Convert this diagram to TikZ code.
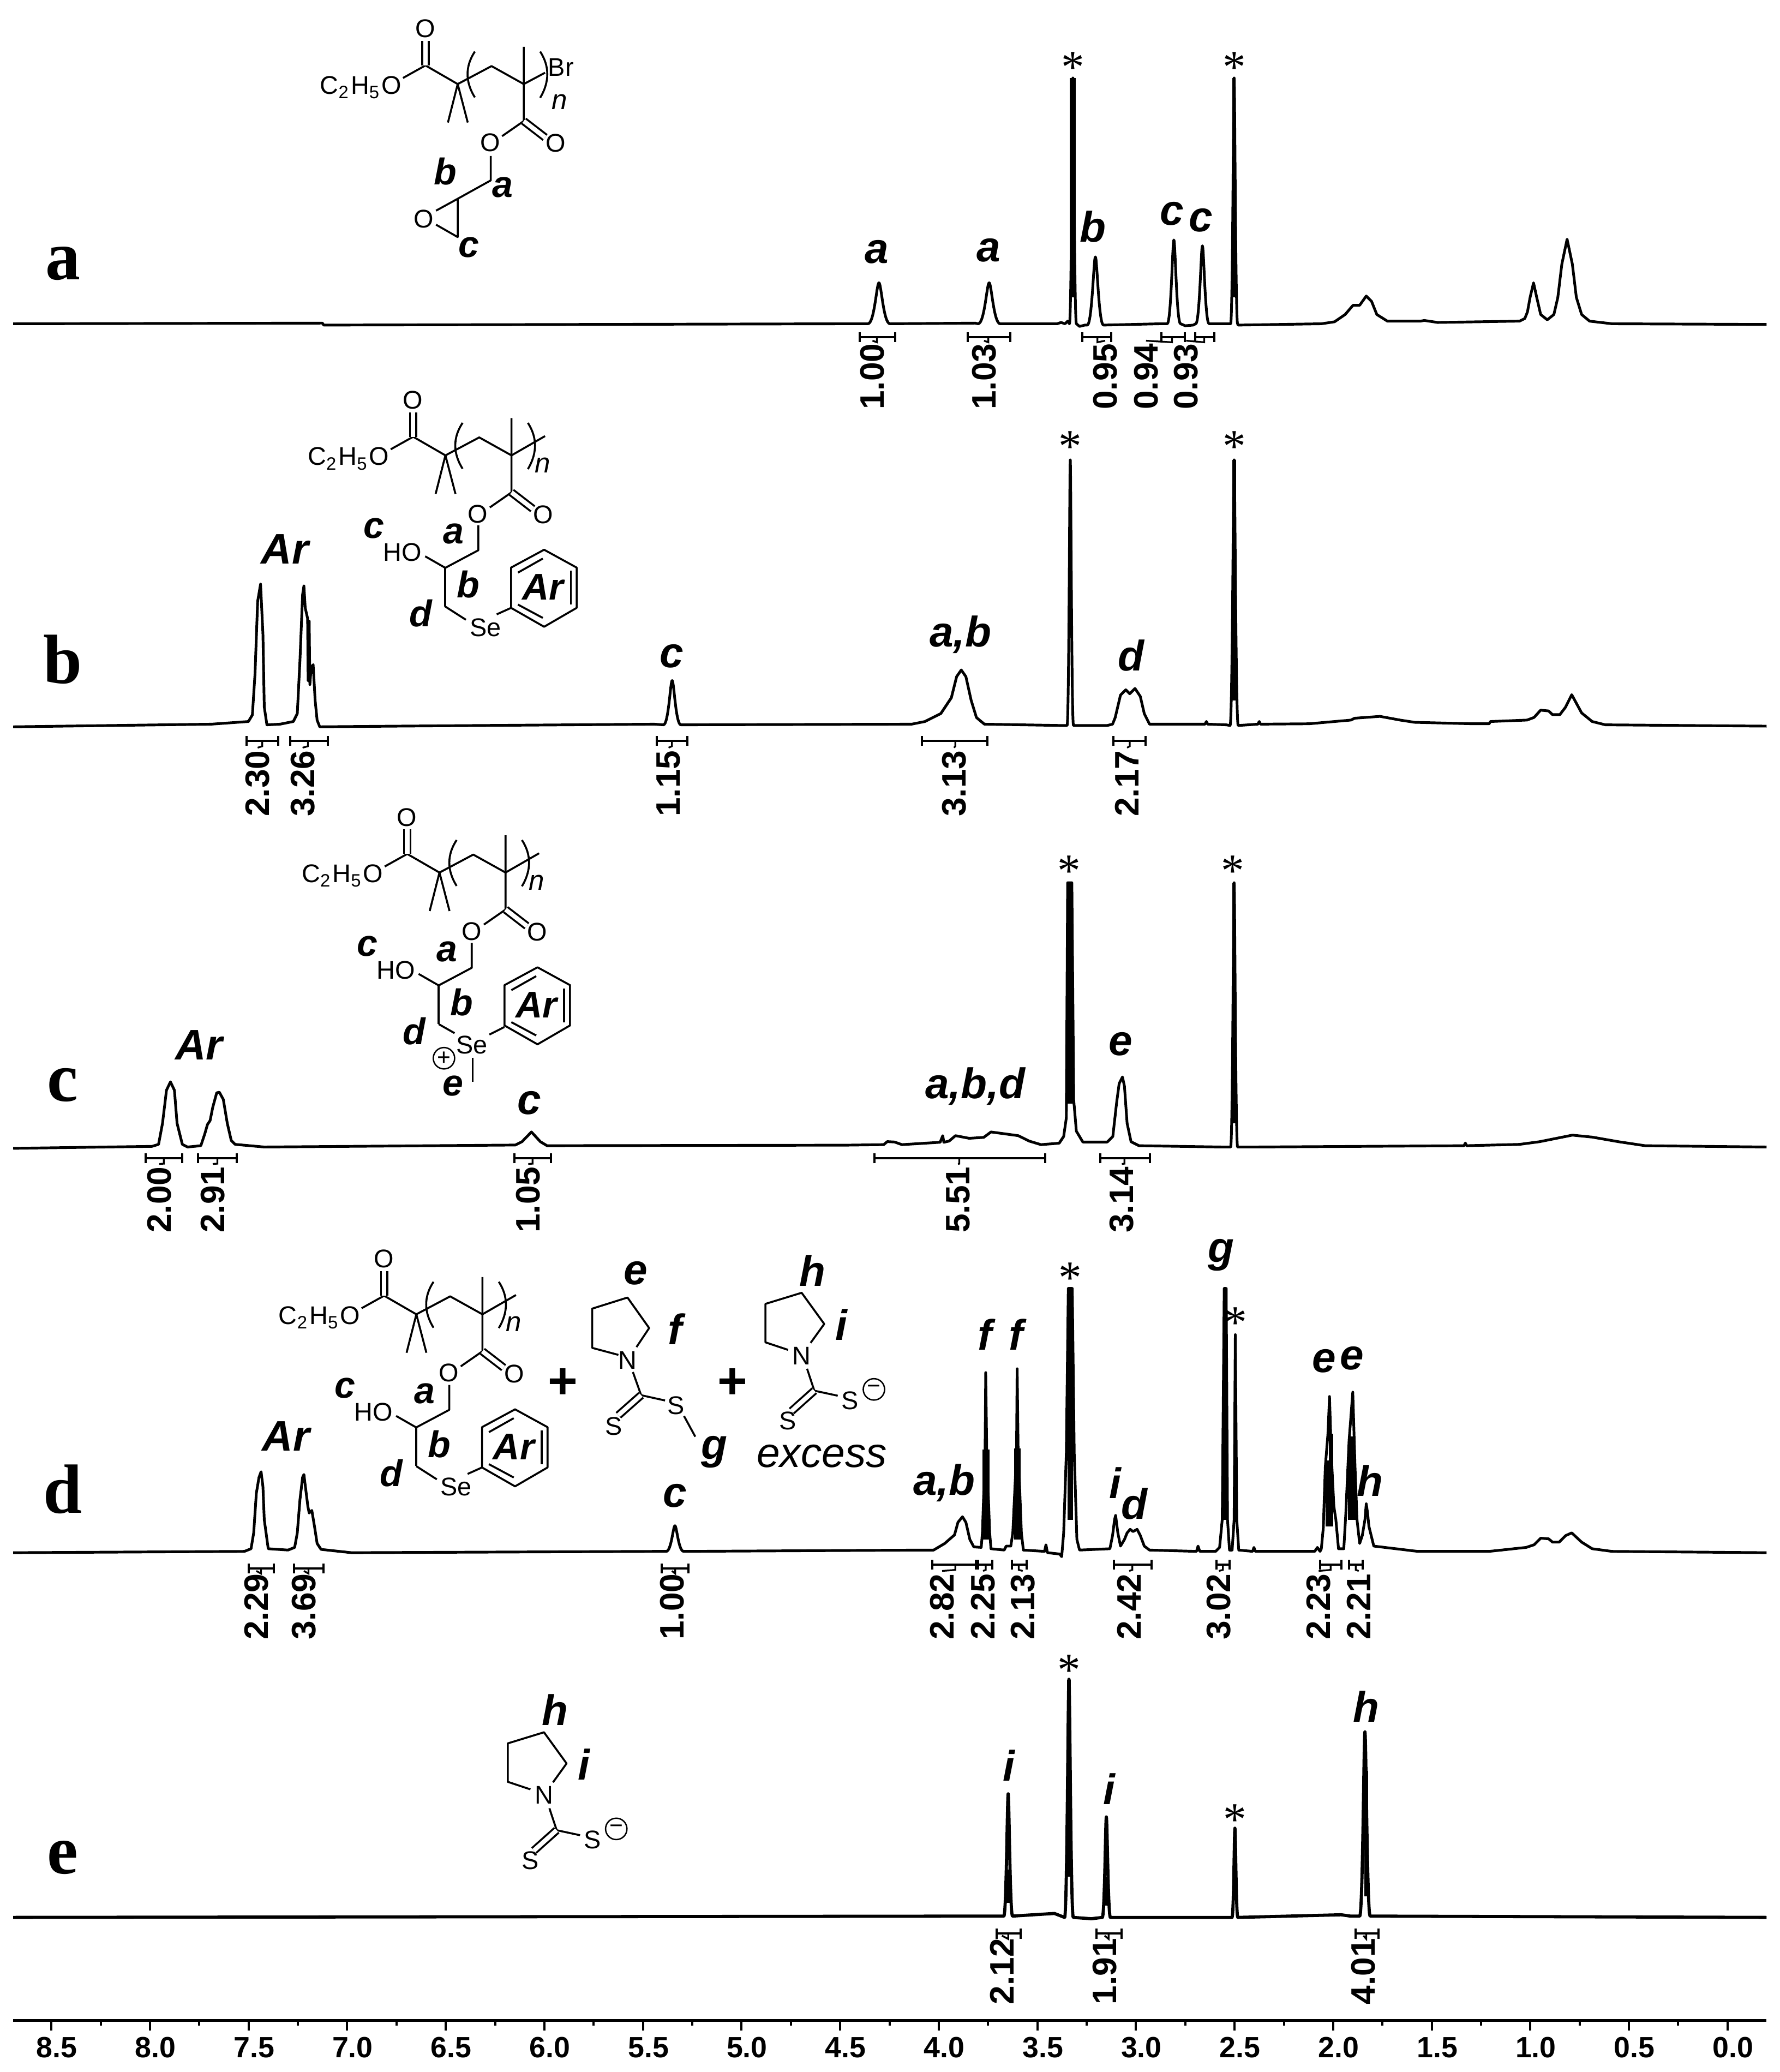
\documentclass[tikz,border=0pt]{standalone}
\usepackage{fontspec}
\setmainfont{Liberation Sans}
\newfontfamily\serifpanel{Liberation Serif}
\usetikzlibrary{arrows.meta}

\tikzset{
  spec/.style={line width=0.58pt, line join=round},
  base/.style={line width=0.62pt},
  bond/.style={line width=0.42pt, line join=round},
  dbl/.style={line width=0.42pt, double, double distance=0.95pt},
  axistick/.style={line width=0.47pt},
  intbar/.style={line width=0.47pt, {Bar[width=2.15pt]}-{Bar[width=2.15pt]}},
  intstem/.style={line width=0.38pt},
  intlab/.style={font=\bfseries\fontsize{7.3}{8}\selectfont, rotate=90, anchor=west, inner sep=0.4pt},
  axlab/.style={font=\bfseries\fontsize{6.3}{7}\selectfont, inner sep=0pt},
  pklab/.style={font=\bfseries\itshape\fontsize{9.2}{10}\selectfont, inner sep=0pt},
  stlab/.style={font=\bfseries\itshape\fontsize{8}{9}\selectfont, inner sep=0pt},
  chem/.style={font=\fontsize{5.5}{6}\selectfont, inner sep=0pt},
  chemit/.style={font=\itshape\fontsize{6}{7}\selectfont, inner sep=0pt},
  starlab/.style={font=\serifpanel\fontsize{10}{10}\selectfont, inner sep=0pt},
  panel/.style={font=\serifpanel\bfseries\fontsize{15}{16}\selectfont, anchor=base, inner sep=0pt},
  charge/.style={draw, circle, line width=0.3pt, inner sep=0pt, minimum size=4.6pt, font=\fontsize{5}{5}\selectfont},
}

% peak: x, top, half width, foot level
\newcommand{\pk}[4]{-- ({#1-#3*2.2},#4) .. controls ({#1-#3*0.9},#4) and ({#1-#3*0.45},#2) .. (#1,#2) .. controls ({#1+#3*0.45},#2) and ({#1+#3*0.9},#4) .. ({#1+#3*2.2},#4)}
% solid part of a crowded peak: x, top, bottom, width
\newcommand{\stick}[4]{\draw[line width=#4*0.2845pt] (#1,#2) -- (#1,#3);}
% integral: name, left, right, stem, label x, bar y, label bottom, value
\newcommand{\integ}[8]{%
  \coordinate (#1l) at (#2,#6);
  \coordinate (#1r) at (#3,#6);
  \coordinate (#1s) at (#4,#6);
  \node[intlab] (#1t) at (#5,#7) {#8};
  \draw[intbar] (#1l) -- (#1r);
  \draw[intstem] (#1s) -- ++(0,4) -- (#1t.east);
}
% ester and polymer unit, tail end and n
\newcommand{\polyhead}[2]{%
  \draw[bond] (305,59) -- (322,49.5) -- (346.4,63.6) -- (372,50) -- (396.4,63.6) -- (#1);
  \draw[dbl] (322,49.5) -- (322,31);
  \draw[bond] (339,92.7) -- (346.4,63.6) -- (354,92.7);
  \draw[bond] (396.4,35.4) -- (396.4,91.6) -- (380,103);
  \draw[dbl] (396.4,91.6) -- (412.5,104);
  \draw[bond] (359.4,39) .. controls (352,50) and (352,62) .. (359.4,73.7);
  \draw[bond] (408.8,39) .. controls (416,50) and (416,62) .. (408.8,74);
  \node[chem] (o1) at (321.8,21.7) {O};
  \node[chem, anchor=base east] (et) at (304.5,71) {C\textsubscript{2}H\textsubscript{5}O};
  \node[chem] (o2) at (371,108) {O};
  \node[chem] (o3) at (420.4,108.5) {O};
  \node[chemit] (rep) at (#2) {n};
}
% side chain with ring
\newcommand{\chainunit}{%
  \draw[bond] (362,397.5) -- (362,416.4) -- (337,429.7) -- (321.8,421);
  \draw[bond] (337,429.7) -- (337,459);
  \draw[bond] (411.8,416) -- (436.4,429.5) -- (436.4,460) -- (411.8,474.3) -- (386.8,460) -- (386.8,429.5) -- cycle;
  \draw[bond] (392,433.3) -- (410.8,422.7);
  \draw[bond] (432,432) -- (432,457.5);
  \draw[bond] (392,457.5) -- (410.8,467.6);
  \node[chem] (ho) at (304.6,418) {HO};
  \node[stlab] (lc) at (283,400) {c};
  \node[stlab] (la) at (343.3,404) {a};
  \node[stlab] (lb) at (354.3,442.3) {b};
  \node[stlab] (ld) at (318.3,464.2) {d};
  \node[stlab] (lar) at (410.8,444.4) {Ar};
}
% plain selenide
\newcommand{\seplain}{%
  \draw[bond] (337,459) -- (352.6,469);
  \draw[bond] (375.9,464.9) -- (386.8,460);
  \node[chem] (se) at (367.3,474.8) {Se};
}
% dithiocarbamate anion
\newcommand{\anion}{%
  \draw[bond] (613.5,1016.2) -- (623.8,1001.9) -- (606.7,978.3) -- (579.3,986.7) -- (579.3,1015.8) -- (596.4,1021.5);
  \draw[bond] (610.8,1035.8) -- (616.3,1052.4) -- (634,1056.2);
  \draw[dbl] (616.3,1052.4) -- (599.1,1067.8);
  \node[chem] (n) at (606.7,1026) {N};
  \node[chem] (s1) at (596.4,1075.2) {S};
  \node[chem] (s2) at (643.3,1059.8) {S};
  \node[charge] (neg) at (661.4,1051.4) {−};
  \node[pklab] (lh) at (615,961.4) {h};
  \node[pklab] (li) at (636.8,1002.5) {i};
}

\begin{document}
\begin{tikzpicture}[x=0.01cm, y=-0.01cm]
    \useasboundingbox (0,0) rectangle (1347,1568);

    % axis
    \draw[base] (10,1529) -- (1336.7,1529);
    \foreach \i/\v in {0/8.5,1/8.0,2/7.5,3/7.0,4/6.5,5/6.0,6/5.5,7/5.0,8/4.5,9/4.0,10/3.5,11/3.0,12/2.5,13/2.0,14/1.5,15/1.0,16/0.5,17/0.0} {
        \draw[axistick] ({38.9+74.62*\i},1529) -- ++(0,7.4);
        \node[axlab] (ax\i) at ({43+74.62*\i},1549.5) {\v};
    }
    \foreach \i in {0,...,16} {
        \draw[axistick] ({76.2+74.62*\i},1529) -- ++(0,4);
    }

    % panel letters
    \node[panel] (pa) at (47.5,211.6) {a};
    \node[panel] (pb) at (47.5,516.9) {b};
    \node[panel] (pc) at (47.5,833.4) {c};
    \node[panel] (pd) at (47.5,1145) {d};
    \node[panel] (pe) at (47.5,1418) {e};

    % spectrum a
    \draw[spec] (10,245) -- (244,244.5) -- (245,246) -- (640,245) \pk{665.2}{214}{3.8}{245} -- (738,244.5) \pk{748.6}{214}{3.8}{245} -- (800,245) -- (803,244) -- (806,245) -- (808,243) \pk{812}{59}{1.2}{245} -- (817,247) -- (821,246) \pk{829}{194.4}{2.8}{246} -- (878,245) \pk{888.4}{181.6}{2.3}{245} -- (897,246.5) -- (903,246) \pk{910}{186}{2.3}{245} -- (928,245) \pk{934}{59}{1.2}{245} -- (937,246) -- (1000,245) -- (1010,243.5) -- (1018,238) -- (1024,231) -- (1029,231) -- (1034,224) -- (1038,228) -- (1042,238) -- (1050,243) -- (1075,243) -- (1078,242.5) -- (1088,244) -- (1150,243) -- (1154,241) -- (1156,236) -- (1158,225) -- (1160.6,214) -- (1163,225) -- (1166,238) -- (1171,242) -- (1176,238) -- (1179,225) -- (1182,200) -- (1186,181) -- (1190,200) -- (1193,225) -- (1197,238) -- (1203,243) -- (1220,245) -- (1337,245.5);
    \stick{812}{59}{225}{4.5}
    \stick{934}{59}{225}{2.6}

    \node[pklab] (aa1) at (663.7,190.5) {a};
    \node[pklab] (aa2) at (748,189.5) {a};
    \node[pklab] (ab) at (827,171.7) {b};
    \node[pklab] (ac1) at (887,161.8) {c};
    \node[pklab] (ac2) at (909,166.7) {c};
    \node[starlab] (as1) at (812,51) {*};
    \node[starlab] (as2) at (934,51) {*};

    \integ{ia1}{650}{678.5}{663.7}{660.3}{255}{312}{1.00}
    \integ{ia2}{731.4}{765.3}{748}{744.7}{255}{312}{1.03}
    \integ{ia3}{818.2}{841.8}{830.5}{836.4}{255}{312}{0.95}
    \integ{ia4}{878}{897.7}{887}{867.3}{255}{312}{0.94}
    \integ{ia5}{903.6}{919.8}{911.4}{897.7}{255}{312}{0.93}

    % structure a
    \begin{scope}[name prefix=a-]
        \polyhead{412.5,55}{423.4,77}
        \node[chem] (br) at (424.5,51) {Br};
        \draw[bond] (371.4,118) -- (371.4,136.5) -- (346.4,150.4) -- (330,159.4);
        \draw[bond] (346.4,150.4) -- (346.4,179.4) -- (330,170);
        \node[chem] (oe) at (320.7,165.7) {O};
        \node[stlab] (lb) at (337,129.5) {b};
        \node[stlab] (la) at (380.6,142) {a};
        \node[stlab] (lc) at (355,187.4) {c};
    \end{scope}

    % spectrum b
    \draw[spec] (10,550) -- (160,548) -- (188,546) -- (191,541) -- (193,510) -- (195,455) -- (197.2,442) -- (199,480) -- (200,535) -- (202,548.5) -- (212,548) -- (222,546) -- (225,540) -- (227,500) -- (229,450) -- (230,443.4) -- (231,460) -- (232.8,468) -- (233.2,515) -- (234,470) -- (234.5,518) -- (235.5,505) -- (237,503) -- (238.5,530) -- (240,545) -- (242,550) -- (300,549.5) -- (495,548) \pk{508.7}{515}{3.0}{548.5} -- (690,548) -- (700,546) -- (712,540) -- (720,528) -- (724,512) -- (727.5,507) -- (731,512) -- (735,530) -- (739,543) -- (745,548) -- (803,549) \pk{810}{348}{1.1}{549} -- (838,549) -- (842,548) -- (844,543) -- (848,526) -- (852,522) -- (855,525) -- (859,521) -- (863,527) -- (866,540) -- (870,548) -- (912,548) -- (913,546) -- (914,548) -- (928,548.5) \pk{934}{348}{1.4}{549} -- (952,548) -- (953,546) -- (954,548) -- (990.8,547.7) -- (1022.4,544.9) -- (1025.2,543.5) -- (1044.4,542.1) -- (1059.6,544.9) -- (1070.6,546.6) -- (1114.6,547.7) -- (1127,547.7) -- (1128,546) -- (1155.7,544.9) -- (1161,542.9) -- (1166,537.4) -- (1172,538) -- (1175,540.8) -- (1180.5,540.8) -- (1184.7,535.3) -- (1189.5,525.7) -- (1197,539.5) -- (1205,546) -- (1215,548.5) -- (1337,549.5);
    \stick{934}{348}{530}{2.8}

    \node[pklab] (bar) at (215.6,415.4) {Ar};
    \node[pklab] (bc) at (508.3,496.4) {c};
    \node[pklab] (bab) at (727,480) {a,b};
    \node[pklab] (bd) at (856,496) {d};
    \node[starlab] (bs1) at (810,338) {*};
    \node[starlab] (bs2) at (934,338) {*};

    \integ{ib1}{185.9}{211.2}{198.5}{195}{560.7}{620}{2.30}
    \integ{ib2}{219}{249}{233}{229}{560.7}{620}{3.26}
    \integ{ib3}{496.4}{521}{508.5}{506}{560.7}{620}{1.15}
    \integ{ib4}{697}{748}{723}{722}{560.7}{620}{3.13}
    \integ{ib5}{842}{868}{855}{853}{560.7}{620}{2.17}

    % structure b
    \begin{scope}[name prefix=b-]
        \begin{scope}[shift={(-9.3,281)}]
            \polyhead{421.8,49}{420,71}
        \end{scope}
        \chainunit
        \seplain
    \end{scope}

    % spectrum c
    \draw[spec] (10,869) -- (115,867.5) -- (120,866) -- (123,850) -- (126,825) -- (129,818.7) -- (132,825) -- (134,850) -- (138,866) -- (142,868) -- (152,867) -- (155,858) -- (157,851) -- (159,848) -- (161,838) -- (164,827) -- (166,826.5) -- (169,832) -- (172,850) -- (175,863) -- (178,866) -- (200,868) -- (390,866.5) -- (395,864) -- (402.2,856.6) -- (409,864) -- (414,867) -- (639.9,866.6) -- (668.8,866.2) -- (671.5,863.9) -- (677,864.2) -- (682.6,866.2) -- (711.5,864.4) -- (713.5,859.4) -- (714.3,864.4) -- (718.3,863.5) -- (723.1,859.4) -- (733.5,861.4) -- (744.5,860.7) -- (750,856.6) -- (770.6,859.4) -- (778.9,863.5) -- (787.8,866.2) -- (801.6,865.1) -- (805,860) -- (807,846) -- (808,668) -- (811.2,668) -- (812.6,832.5) -- (814.6,856) -- (819.5,864.2) -- (838,864.2) -- (842.2,860) -- (845,835) -- (847,820) -- (849.5,815) -- (851,822) -- (853,850) -- (856,864) -- (862,867) -- (925,868) \pk{934}{668}{1.2}{868} -- (950,868) -- (1108,867) -- (1109,865) -- (1110,867) -- (1150,866) -- (1165,864) -- (1190,859) -- (1205,860.5) -- (1225,864) -- (1245,867) -- (1337,868);
    \stick{809.6}{668}{835}{5}
    \stick{934}{668}{850}{2.6}

    \node[pklab] (car) at (150.6,790.7) {Ar};
    \node[pklab] (cc) at (400.5,834.5) {c};
    \node[pklab] (cabd) at (738,822) {a,b,d};
    \node[pklab] (ce) at (848,790) {e};
    \node[starlab] (cs1) at (809,659) {*};
    \node[starlab] (cs2) at (933,659) {*};

    \integ{ic1}{109.5}{138.6}{124}{120.5}{876.6}{935}{2.00}
    \integ{ic2}{149}{180}{164.5}{161}{876.6}{935}{2.91}
    \integ{ic3}{388.5}{417.6}{403}{399.8}{876.6}{935}{1.05}
    \integ{ic4}{661}{792}{726}{725}{876.6}{935}{5.51}
    \integ{ic5}{832}{871}{851}{849}{876.6}{935}{3.14}

    % structure c
    \begin{scope}[name prefix=c-]
        \begin{scope}[shift={(-13.8,596.7)}]
            \polyhead{421.8,49}{420,71}
        \end{scope}
        \begin{scope}[shift={(-5,316)}]
            \chainunit
        \end{scope}
        \draw[bond] (332,775) -- (344,781.8);
        \draw[bond] (370.4,782.9) -- (381.7,777.2);
        \draw[bond] (357.7,800.3) -- (357.7,818.7);
        \node[chem] (se) at (357,790.7) {Se};
        \node[charge] (pos) at (336,800.8) {+};
        \node[stlab] (le) at (343,821.8) {e};
    \end{scope}

    % spectrum d
    \draw[spec] (10,1175) -- (185,1174) -- (190,1172) -- (192,1160) -- (194,1130) -- (196,1118) -- (197.6,1113.7) -- (199,1125) -- (200,1150) -- (203,1172) -- (218,1173) -- (223,1171) -- (225,1160) -- (227,1135) -- (229,1118) -- (230,1115.8) -- (231.5,1128) -- (233,1140) -- (234,1145) -- (236,1143) -- (238,1155) -- (240,1168) -- (243,1172.5) -- (266,1175) -- (495,1174) \pk{510.8}{1154.6}{3}{1174} -- (700,1173) -- (706.6,1173) -- (715,1168) -- (722.4,1161.5) -- (725,1152) -- (728.4,1147.8) -- (731,1152) -- (734,1165) -- (737,1170.6) -- (742.6,1171) -- (743.5,1160) -- (745.5,1100) -- (746,1038.7) -- (746.8,1100) -- (749,1160) -- (750,1172) -- (760,1173) -- (761.5,1170) -- (765,1170) -- (766.5,1160) -- (769.3,1100) -- (769.8,1035.8) -- (770.5,1095) -- (773,1160) -- (774.5,1173) -- (790.5,1174) -- (791.6,1169) -- (792.7,1175) -- (802,1176) -- (803.5,1178) -- (805,1160) -- (807,1100) -- (808.5,975) -- (811.5,975) -- (813,1100) -- (815,1165) -- (817,1173) -- (840,1172) -- (842,1162) -- (843.5,1150) -- (844.3,1146.8) -- (846,1160) -- (848,1170) -- (851,1165) -- (853,1160) -- (855.3,1157.3) -- (857.5,1159) -- (860.6,1157.3) -- (863,1162) -- (866,1170) -- (870,1173) -- (905.5,1174) -- (906.7,1170) -- (908,1174) -- (920,1174) -- (923,1171) -- (925,1150) -- (926.5,975) -- (928,975) -- (929,1150) -- (930.5,1173) -- (932.5,1173) -- (934,1150) -- (934.9,1010) -- (936,1150) -- (937.5,1173) -- (948,1174) -- (949,1171) -- (950,1174) -- (995,1174) -- (997,1171) -- (999,1174) -- (1000,1172) -- (1001.5,1156) -- (1003,1110) -- (1005,1085) -- (1006.2,1056.8) -- (1007.5,1100) -- (1009.5,1140) -- (1011,1150) -- (1013,1172) -- (1017,1172) -- (1018.5,1146) -- (1021,1090) -- (1023.8,1053.5) -- (1025.5,1110) -- (1027,1150) -- (1029,1168) -- (1031,1162) -- (1033,1150) -- (1034,1138) -- (1035,1145) -- (1036,1155) -- (1039.7,1170) -- (1073,1174) -- (1127,1174) -- (1155,1171) -- (1161,1169) -- (1166,1164) -- (1172,1164.5) -- (1175,1167) -- (1180,1167) -- (1185,1162) -- (1189.5,1160) -- (1197,1167) -- (1205,1172) -- (1220,1174) -- (1337,1175);
    \stick{746.2}{1097}{1165}{5}
    \stick{770}{1096}{1165}{5}
    \stick{810}{975}{1150}{4.4}
    \stick{927.2}{975}{1150}{3.4}
    \stick{1006.2}{1105}{1155}{6}
    \stick{1007.4}{1085}{1105}{3.5}
    \stick{1023}{1104}{1150}{6}
    \stick{1022.6}{1087}{1104}{3.5}

    \node[pklab] (dar) at (216.4,1086.8) {Ar};
    \node[pklab] (dc) at (510.8,1132) {c};
    \node[pklab] (dab) at (714.5,1122) {a,b};
    \node[pklab] (df1) at (745.3,1010) {f};
    \node[pklab] (df2) at (769,1010) {f};
    \node[pklab] (di) at (844,1122) {i};
    \node[pklab] (dd) at (858.5,1138) {d};
    \node[pklab] (dg) at (924.3,949.9) {g};
    \node[pklab] (de1) at (1002,1030) {e};
    \node[pklab] (de2) at (1023,1028) {e};
    \node[pklab] (dh) at (1037,1120.4) {h};
    \node[starlab] (ds1) at (810,967) {*};
    \node[starlab] (ds2) at (935,1001) {*};

    \integ{id1}{187.4}{207.9}{197.6}{194}{1186.8}{1243}{2.29}
    \integ{id2}{221.6}{245.5}{233.5}{230}{1186.8}{1243}{3.69}
    \integ{id3}{500}{521.8}{511}{508.5}{1186.8}{1243}{1.00}
    \integ{id4}{704.7}{739.5}{723}{713}{1184}{1243}{2.82}
    \integ{id5}{739.5}{752}{746}{744}{1184}{1243}{2.25}
    \integ{id6}{765}{777.7}{771}{774}{1184}{1243}{2.13}
    \integ{id7}{842.2}{872.5}{857}{854.6}{1184}{1243}{2.42}
    \integ{id8}{919.9}{931.2}{925.5}{922.5}{1184}{1243}{3.02}
    \integ{id9}{998.3}{1016}{1007}{998}{1184}{1243}{2.23}
    \integ{id10}{1020}{1032.3}{1026}{1028.3}{1184}{1243}{2.21}

    % structure d
    \begin{scope}[name prefix=d-]
        \begin{scope}[shift={(-31.3,931)}]
            \polyhead{421.8,49}{420,71}
        \end{scope}
        \begin{scope}[shift={(-22,650.5)}]
            \chainunit
            \seplain
        \end{scope}
    \end{scope}
    \node[pklab, font=\bfseries\fontsize{11}{11}\selectfont] (plus1) at (426,1047) {+};
    \node[pklab, font=\bfseries\fontsize{11}{11}\selectfont] (plus2) at (554.3,1047) {+};

    % dithioester
    \begin{scope}[name prefix=r-]
        \draw[bond] (481.7,1019.4) -- (491.3,1005) -- (474.9,981.9) -- (448.2,990.3) -- (448.2,1020) -- (468,1025.3);
        \draw[bond] (479,1038.3) -- (485.2,1055.8) -- (503.3,1059.8);
        \draw[dbl] (485.2,1055.8) -- (468,1071);
        \draw[bond] (517.7,1071.6) -- (526.2,1087.2);
        \node[chem] (n) at (474.9,1029.5) {N};
        \node[chem] (s1) at (464.6,1079.4) {S};
        \node[chem] (s2) at (511.5,1063.6) {S};
        \node[pklab] (le) at (481,963.5) {e};
        \node[pklab] (lf) at (510.8,1005.7) {f};
        \node[pklab] (lg) at (540.6,1099) {g};
    \end{scope}
    \begin{scope}[name prefix=x-]
        \anion
    \end{scope}
    \node[font=\itshape\fontsize{9}{10}\selectfont, inner sep=0pt] (exc) at (622,1102) {excess};

    % spectrum e
    \draw[spec, line width=0.68pt] (10,1451) -- (750,1450) \pk{763}{1357.5}{1.5}{1450} -- (798,1448) \pk{809}{1270.8}{1.5}{1451} -- (826,1452) \pk{837.3}{1375}{1.4}{1451} -- (925,1451) \pk{934.6}{1383.5}{1.0}{1451} -- (1015,1449) -- (1022,1450) \pk{1033}{1310.6}{1.8}{1450} -- (1337,1451);
    \stick{809}{1271}{1420}{3.2}
    \stick{1034}{1340}{1435}{2.8}
    \stick{763}{1415}{1440}{2.4}
    \stick{837.3}{1420}{1442}{2.4}

    \node[pklab] (ei1) at (763.7,1335.8) {i};
    \node[pklab] (ei2) at (839.4,1353.6) {i};
    \node[pklab] (eh) at (1033.8,1291.5) {h};
    \node[starlab] (es1) at (809,1264) {*};
    \node[starlab] (es2) at (934.6,1377) {*};

    \integ{ie1}{753.6}{773.2}{763}{758.3}{1463.3}{1519}{2.12}
    \integ{ie2}{829.2}{849.5}{839}{836}{1463.3}{1519}{1.91}
    \integ{ie3}{1025}{1044}{1034}{1031.8}{1463.3}{1519}{4.01}

    % structure e
    \begin{scope}[name prefix=e-, shift={(-195,332.6)}]
        \anion
    \end{scope}
\end{tikzpicture}
\end{document}
